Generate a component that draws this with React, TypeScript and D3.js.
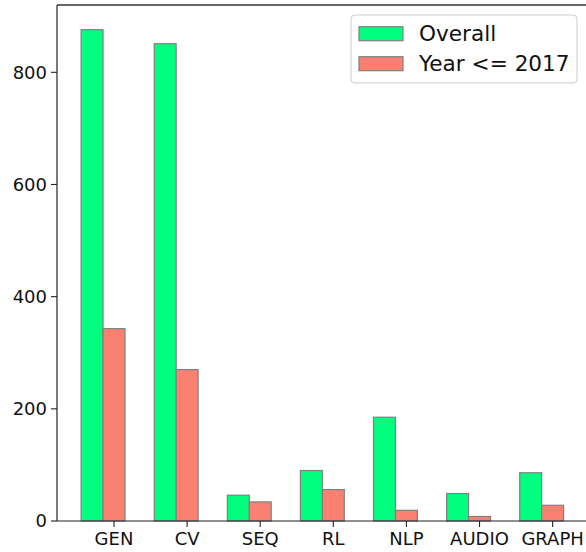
import React from "react";
import * as d3 from "d3";

const categories = ["GEN", "CV", "SEQ", "RL", "NLP", "AUDIO", "GRAPH"];
const overall = [876, 851, 46, 90, 185, 49, 86];
const yearLe2017 = [343, 270, 34, 56, 19, 8, 28];
const yTicks = [0, 200, 400, 600, 800];
const seriesNames = ["Overall", "Year <= 2017"];
const seriesColors = ["#00FF7F", "#FA8072"];

const W = 586;
const H = 552;
const left = 57;
const top = 5;
const bottom = 521;
const barW = 0.3;

export default function App() {
  const x = d3.scaleLinear().domain([-0.48, 6.78]).range([left, left + 7.26 * 73.1]);
  const y = d3.scaleLinear().domain([0, 920]).range([bottom, top]);
  const series = [overall, yearLe2017];
  const font = "DejaVu Sans, sans-serif";

  return (
    <svg width={W} height={H} style={{ position: "absolute", left: 0, top: 0 }} fontFamily={font}>
      <rect x={0} y={0} width={W} height={H} fill="white" />
      {series.map((vals, si) =>
        vals.map((v, i) => {
          const x0 = x(i + si * barW - barW / 2);
          const x1 = x(i + si * barW + barW / 2);
          return (
            <rect
              key={`${si}-${i}`}
              x={x0}
              y={y(v)}
              width={x1 - x0}
              height={y(0) - y(v)}
              fill={seriesColors[si]}
              stroke="#808080"
              strokeWidth={1.2}
            />
          );
        })
      )}
      {/* spines */}
      <line x1={left} x2={left} y1={top} y2={bottom} stroke="#222" strokeWidth={1.2} />
      <line x1={left} x2={W} y1={bottom} y2={bottom} stroke="#222" strokeWidth={1.2} />
      <line x1={left} x2={W} y1={top} y2={top} stroke="#333" strokeWidth={1.4} />
      {/* y ticks */}
      {yTicks.map((t) => (
        <g key={t}>
          <line x1={left - 6} x2={left} y1={y(t)} y2={y(t)} stroke="#222" strokeWidth={1.1} />
          <text x={left - 10} y={y(t)} dy="0.36em" textAnchor="end" fontSize={18} fill="#111">
            {t}
          </text>
        </g>
      ))}
      {/* x ticks */}
      {categories.map((c, i) => (
        <g key={c}>
          <line x1={x(i + barW)} x2={x(i + barW)} y1={bottom} y2={bottom + 6} stroke="#222" strokeWidth={1.1} />
          <text x={x(i + barW)} y={545} textAnchor="middle" fontSize={18} fill="#111">
            {c}
          </text>
        </g>
      ))}
      {/* legend */}
      <rect x={351} y={15} width={226} height={68} rx={4} fill="white" fillOpacity={0.8} stroke="#cccccc" strokeWidth={1} />
      {seriesNames.map((n, i) => (
        <g key={n}>
          <rect x={359} y={26.7 + i * 30} width={44} height={14} fill={seriesColors[i]} stroke="#808080" strokeWidth={1.2} />
          <text x={419} y={33.7 + i * 30} dy="0.36em" fontSize={21.6} fill="#111">
            {n}
          </text>
        </g>
      ))}
    </svg>
  );
}
